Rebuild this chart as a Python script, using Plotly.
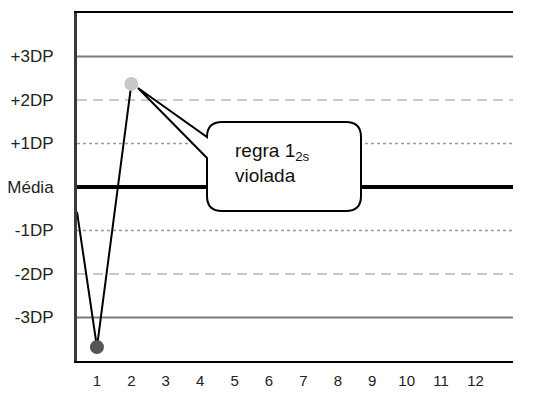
"""Levey-Jennings style control chart with a 1_2s rule callout."""

import plotly.graph_objects as go

# ── Data ──────────────────────────────────────────────────────────
RUNS = [0.42, 1, 2]
VALUES_SD = [-0.57, -3.68, 2.37]
POINT_RUNS = [1, 2]
POINT_VALUES = [-3.68, 2.37]
POINT_COLORS = ["#555555", "#c8c8c8"]

X_TICKS = list(range(1, 13))
SD_LEVELS = [3, 2, 1, 0, -1, -2, -3]
SD_LABELS = ["+3DP", "+2DP", "+1DP", "Média", "-1DP", "-2DP", "-3DP"]

CALLOUT_LINE1 = "regra 1<sub>2s</sub>"
CALLOUT_LINE2 = "violada"

# ── Geometry ──────────────────────────────────────────────────────
# page body has an 8px margin, so the figure is drawn 8px in from the corner
OFF = 8
W, H = 546 - OFF, 402 - OFF
L, R, T, B = 77 - OFF, 513 - OFF, 13 - OFF, 361 - OFF
X_RANGE = [0.42, 13.09]
Y_RANGE = [-4, 4]


def px(xp, yp):
    """Screen pixel position -> data coords (for the callout drawing)."""
    xp, yp = xp - OFF, yp - OFF
    x = X_RANGE[0] + (xp - L) / (R - L) * (X_RANGE[1] - X_RANGE[0])
    y = Y_RANGE[1] - (yp - T) / (B - T) * (Y_RANGE[1] - Y_RANGE[0])
    return x, y


def pt(xp, yp):
    x, y = px(xp, yp)
    return f"{x:.4f},{y:.4f}"


LINE_STYLE = {
    3: dict(color="#7a7a7a", width=2),
    2: dict(color="#c8c8c8", width=2, dash="10px,6px"),
    1: dict(color="#9a9a9a", width=1.5, dash="dot"),
    0: dict(color="#000000", width=4),
}

fig = go.Figure()

shapes = []
for lvl in SD_LEVELS:
    shapes.append(dict(
        type="line", xref="paper", yref="y", x0=0, x1=1, y0=lvl, y1=lvl,
        line=LINE_STYLE[abs(lvl)], layer="below",
    ))

# callout balloon with tail pointing at the +2DP violation
callout = (
    f"M {pt(207, 158)} L {pt(138, 88)} L {pt(207, 137)} "
    f"Q {pt(207, 122)} {pt(222, 122)} L {pt(346, 122)} "
    f"Q {pt(361, 122)} {pt(361, 137)} L {pt(361, 196)} "
    f"Q {pt(361, 211)} {pt(346, 211)} L {pt(222, 211)} "
    f"Q {pt(207, 211)} {pt(207, 196)} Z"
)
shapes.append(dict(
    type="path", xref="x", yref="y", path=callout,
    fillcolor="white", line=dict(color="black", width=2), layer="above",
))

fig.add_trace(go.Scatter(
    x=RUNS, y=VALUES_SD, mode="lines",
    line=dict(color="black", width=2), showlegend=False, hoverinfo="skip",
))
fig.add_trace(go.Scatter(
    x=POINT_RUNS, y=POINT_VALUES, mode="markers",
    marker=dict(size=14, color=POINT_COLORS, line=dict(width=0)),
    showlegend=False, cliponaxis=False,
))

tx, ty = px(233, 163)
fig.add_annotation(
    x=tx, y=ty, xref="x", yref="y", xanchor="left", yanchor="middle",
    text=f"{CALLOUT_LINE1}<br>{CALLOUT_LINE2}", align="left", showarrow=False,
    font=dict(family="Liberation Sans, Arial, sans-serif", size=19, color="#111111"),
)

fig.update_layout(
    width=W, height=H,
    margin=dict(l=L, r=W - R, t=T, b=H - B, pad=0),
    paper_bgcolor="white", plot_bgcolor="white",
    shapes=shapes, showlegend=False,
    font=dict(family="Liberation Sans, Arial, sans-serif", color="#222222"),
    xaxis=dict(
        range=X_RANGE, tickvals=X_TICKS, ticktext=[str(t) for t in X_TICKS],
        showgrid=False, zeroline=False, ticks="", automargin=False,
        showline=True, mirror=True, linecolor="black", linewidth=2,
        tickfont=dict(size=15), ticklabelstandoff=5,
    ),
    yaxis=dict(
        range=Y_RANGE, tickvals=SD_LEVELS, ticktext=SD_LABELS,
        showgrid=False, zeroline=False, ticks="", automargin=False,
        showline=True, linecolor="#3a3a3a", linewidth=3,
        tickfont=dict(size=17), ticklabelstandoff=17,
    ),
)

fig.write_html("out.html")
